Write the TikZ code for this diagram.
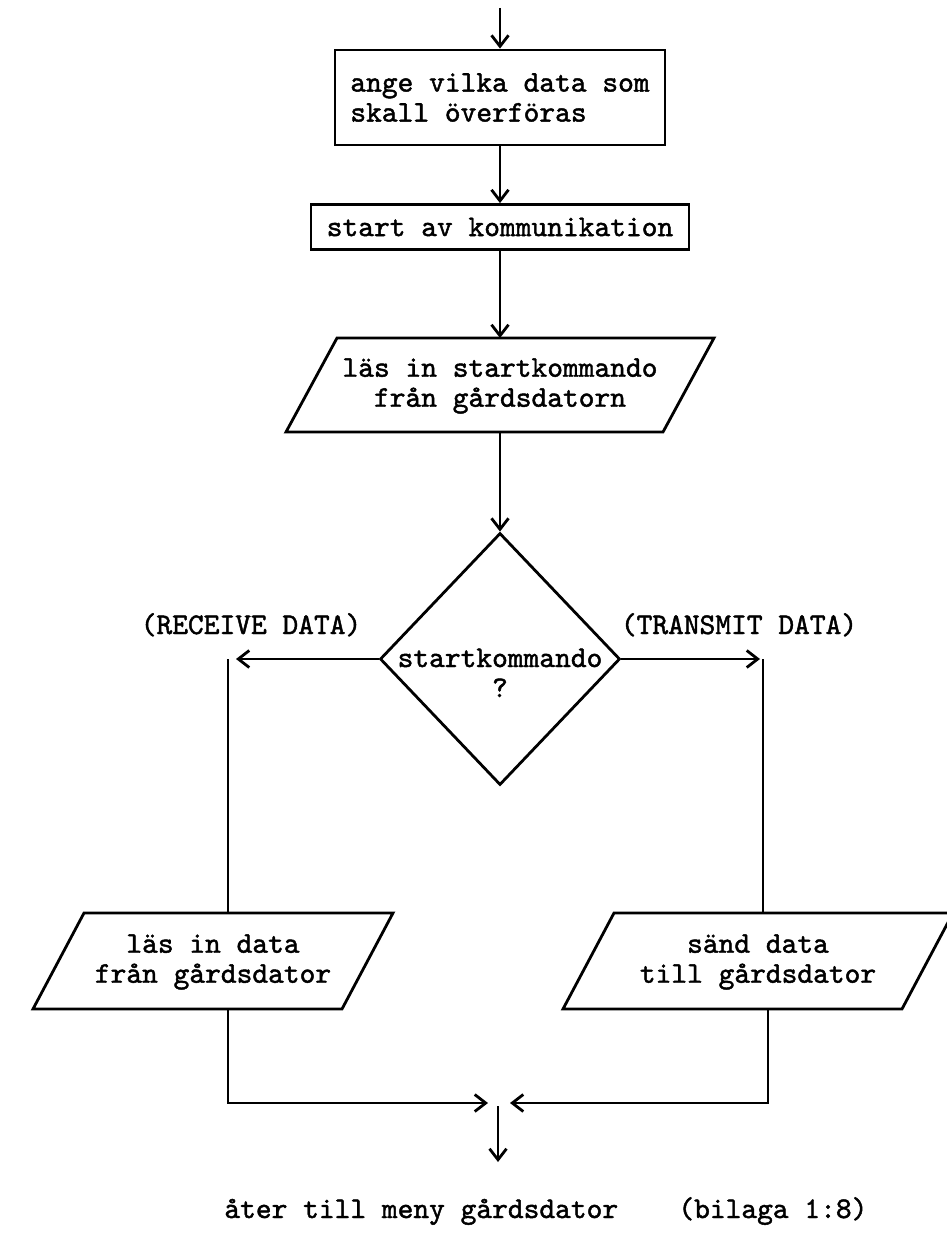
\documentclass[tikz,border=0pt]{standalone}
\usepackage{fontspec}
\newfontfamily\typewriter{lmmono10-regular.otf}[FakeBold=1.5]
\usetikzlibrary{arrows.meta,shapes.geometric}
\begin{document}
\begin{tikzpicture}[x=1pt,y=-1pt,
  line width=2.8pt,
  every node/.style={font=\fontsize{30}{30}\selectfont\typewriter},
  proc/.style={draw, rectangle, inner sep=0pt, align=left},
  dec/.style={draw, diamond, inner sep=0pt},
  io/.style={draw, line join=miter},
  txt/.style={align=center, inner sep=0pt},
  arr/.style={-{Straight Barb[length=11pt,width=17pt,line width=2.8pt]}}
]
\useasboundingbox (0,0) rectangle (946,1247);

% process boxes
\coordinate (start) at (500,8);
\node[proc, minimum width=330pt, minimum height=95pt] (b1) at (500,97.5)
  {ange vilka data som\\skall överföras};
\node[proc, minimum width=378pt, minimum height=45pt] (b2) at (500,227)
  {start av kommunikation};

% input: start command
\draw[io] (337,338) -- (714,338) -- (663,432) -- (286,432) -- cycle;
\coordinate (p1n) at (500,338);
\coordinate (p1s) at (500,432);
\node[txt] (p1) at (500,386) {läs in startkommando\\från gårdsdatorn};

% decision
\node[dec, minimum width=240pt, minimum height=252pt] (d) at (500,659) {};
\node[anchor=base, inner sep=0pt] (dt1) at (500,667) {startkommando};
\node[anchor=base, inner sep=0pt] (dt2) at (500,697) {?};

\node[anchor=base, inner sep=0pt] (lrec) at (251,634) {(RECEIVE DATA)};
\node[anchor=base, inner sep=0pt] (ltra) at (739,634) {(TRANSMIT DATA)};

% input/output boxes
\draw[io] (84,913) -- (393,913) -- (342,1009) -- (33,1009) -- cycle;
\node[txt] (p2) at (213,962) {läs in data\\från gårdsdator};
\draw[io] (614,913) -- (953,913) -- (902,1009) -- (563,1009) -- cycle;
\node[txt] (p3) at (758,962) {sänd data\\till gårdsdator};

% connection points
\coordinate (cl) at (236,659);
\coordinate (clc) at (228,659);
\coordinate (p2n) at (228,913);
\coordinate (p2s) at (228,1009);
\coordinate (cr) at (760,659);
\coordinate (crc) at (763,659);
\coordinate (p3n) at (763,913);
\coordinate (p3s) at (768,1009);
\coordinate (jl) at (488,1103);
\coordinate (jr) at (510,1103);
\coordinate (jo) at (498,1106);
\coordinate (fin) at (498,1162);

% connectors
\draw[arr] (start) -- (b1);
\draw[arr] (b1) -- (b2);
\draw[arr] (b2) -- (p1n);
\draw[arr] (p1s) -- (d.north);
\draw[arr] (d.west) -- (cl);
\draw (clc) -- (p2n);
\draw[arr] (d.east) -- (cr);
\draw (crc) -- (p3n);
\draw[arr] (p2s) |- (jl);
\draw[arr] (p3s) |- (jr);
\draw[arr] (jo) -- (fin);

% closing line
\node[anchor=base west, inner sep=0pt] (ret) at (223,1218) {åter till meny gårdsdator};
\node[anchor=base west, inner sep=0pt] (app) at (677,1218) {(bilaga 1:8)};
\end{tikzpicture}
\end{document}
